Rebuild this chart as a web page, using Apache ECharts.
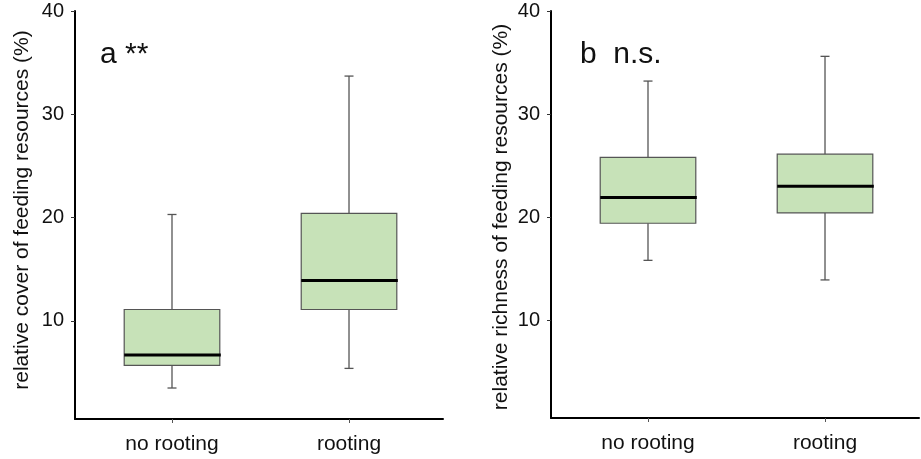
<!DOCTYPE html>
<html>
<head>
<meta charset="utf-8">
<script src="https://cdn.jsdelivr.net/npm/echarts@6/dist/echarts.min.js"></script>
<style>
  html, body { margin: 0; padding: 0; background: #fff; }
  #chart { width: 921px; height: 459px; }
</style>
</head>
<body>
<div id="chart"></div>
<script>
// box stats: [whisker low, Q1, median, Q3, whisker high]
const categories = ['no rooting', 'rooting'];
const coverNoRooting = [3.5, 5.7, 6.7, 11.1, 20.3];
const coverRooting = [5.4, 11.1, 13.9, 20.4, 33.7];
const richNoRooting = [15.8, 19.4, 21.9, 25.8, 33.2];
const richRooting = [13.9, 20.4, 23.0, 26.1, 35.6];
const yTicks = [10, 20, 30, 40];

const FONT = '"Liberation Sans", Arial, sans-serif';
const boxFill = '#c7e2b8';
const edge = '#555555';

const chart = echarts.init(document.getElementById('chart'));

function renderBox(params, api) {
  const x = api.value(0);
  const lo = api.coord([x, api.value(1)]);
  const q1 = api.coord([x, api.value(2)]);
  const med = api.coord([x, api.value(3)]);
  const q3 = api.coord([x, api.value(4)]);
  const hi = api.coord([x, api.value(5)]);
  const unit = api.size([1, 0])[0];
  const half = unit * 0.27;
  const cap = 4.5;
  const cx = lo[0];
  const line = { stroke: edge, lineWidth: 1.3 };
  return {
    type: 'group',
    children: [
      { type: 'line', shape: { x1: cx, y1: q3[1], x2: cx, y2: hi[1] }, style: line },
      { type: 'line', shape: { x1: cx, y1: lo[1], x2: cx, y2: q1[1] }, style: line },
      { type: 'line', shape: { x1: cx - cap, y1: hi[1], x2: cx + cap, y2: hi[1] }, style: line },
      { type: 'line', shape: { x1: cx - cap, y1: lo[1], x2: cx + cap, y2: lo[1] }, style: line },
      {
        type: 'rect',
        shape: { x: cx - half, y: q3[1], width: half * 2, height: q1[1] - q3[1] },
        style: { fill: boxFill, stroke: edge, lineWidth: 1.2 }
      },
      { type: 'line', shape: { x1: cx - half, y1: med[1], x2: cx + half + 1, y2: med[1] }, style: { stroke: '#000', lineWidth: 3 } }
    ]
  };
}

function xAxisFor(gridIndex) {
  return {
    type: 'value', gridIndex: gridIndex, min: 0.452, max: 2.531,
    splitLine: { show: false },
    axisLine: { show: true, onZero: false, lineStyle: { color: '#000', width: 2 } },
    axisTick: { show: true, customValues: [1, 2], length: 4, lineStyle: { color: '#555' } },
    axisLabel: {
      customValues: [1, 2], margin: 15,
      formatter: (v) => categories[Math.round(v) - 1],
      fontFamily: FONT, fontSize: 21, color: '#111'
    }
  };
}

function yAxisFor(gridIndex) {
  return {
    type: 'value', gridIndex: gridIndex, min: 0.5, max: 40,
    splitLine: { show: false },
    axisLine: { show: true, onZero: false, lineStyle: { color: '#000', width: 2 } },
    axisTick: { show: true, customValues: yTicks, length: 4, lineStyle: { color: '#333' } },
    axisLabel: {
      customValues: yTicks, margin: 11,
      fontFamily: FONT, fontSize: 20, color: '#111'
    }
  };
}

const option = {
  animation: false,
  backgroundColor: '#fff',
  grid: [
    { left: 75, right: 478, top: 11, bottom: 40 },
    { left: 551, right: 2, top: 11, bottom: 41 }
  ],
  xAxis: [xAxisFor(0), xAxisFor(1)],
  yAxis: [yAxisFor(0), yAxisFor(1)],
  series: [
    {
      type: 'custom', xAxisIndex: 0, yAxisIndex: 0, renderItem: renderBox,
      data: [[1, ...coverNoRooting], [2, ...coverRooting]]
    },
    {
      type: 'custom', xAxisIndex: 1, yAxisIndex: 1, renderItem: renderBox,
      data: [[1, ...richNoRooting], [2, ...richRooting]]
    }
  ],
  graphic: [
    {
      type: 'text', x: 22, y: 210, rotation: Math.PI / 2,
      style: { text: 'relative cover of feeding resources (%)', font: '21px ' + FONT, fill: '#111', align: 'center', verticalAlign: 'middle' }
    },
    {
      type: 'text', x: 501, y: 217, rotation: Math.PI / 2,
      style: { text: 'relative richness of feeding resources (%)', font: '21px ' + FONT, fill: '#111', align: 'center', verticalAlign: 'middle' }
    },
    {
      type: 'text', x: 100, y: 40,
      style: { text: 'a **', font: '30px ' + FONT, fill: '#111', align: 'left', verticalAlign: 'alphabetic' }
    },
    {
      type: 'text', x: 580, y: 40,
      style: { text: 'b  n.s.', font: '30px ' + FONT, fill: '#111', align: 'left', verticalAlign: 'alphabetic' }
    }
  ]
};

chart.setOption(option);
window.addEventListener('resize', () => chart.resize());
</script>
</body>
</html>
